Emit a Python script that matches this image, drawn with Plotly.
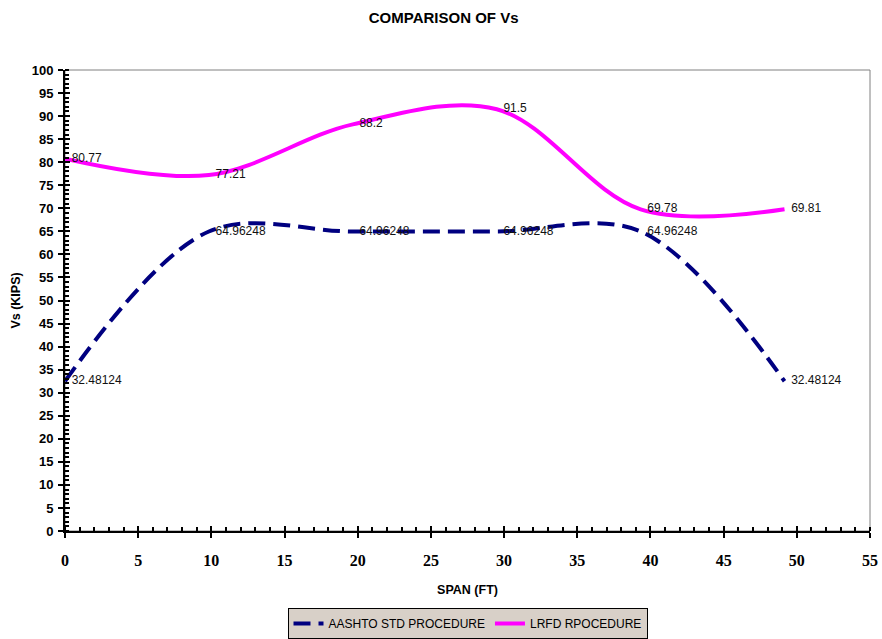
import plotly.graph_objects as go

span_ft = [0, 9.83, 19.66, 29.5, 39.33, 49.16]
aashto_vs = [32.48124, 64.96248, 64.96248, 64.96248, 64.96248, 32.48124]
lrfd_vs = [80.77, 77.21, 88.2, 91.5, 69.78, 69.81]
aashto_labels = ["32.48124", "64.96248", "64.96248", "64.96248", "64.96248", "32.48124"]
lrfd_labels = ["80.77", "77.21", "88.2", "91.5", "69.78", "69.81"]

pad = "\u00a0\u00a0"
fig = go.Figure()
fig.add_trace(go.Scatter(
    x=span_ft, y=aashto_vs, mode="lines+text", name="AASHTO STD PROCEDURE",
    line=dict(color="#000080", width=4, dash="17px,8px", shape="spline", smoothing=1.0),
    text=[pad + t for t in aashto_labels], textposition="middle right",
    textfont=dict(family="Arial", size=12, color="#111111"),
))
fig.add_trace(go.Scatter(
    x=span_ft, y=lrfd_vs, mode="lines+text", name="LRFD RPOCEDURE",
    line=dict(color="#ff00ff", width=4, shape="spline", smoothing=1.0),
    text=[pad + t for t in lrfd_labels], textposition="middle right",
    textfont=dict(family="Arial", size=12, color="#111111"),
))

fig.update_layout(
    width=882, height=639,
    paper_bgcolor="white", plot_bgcolor="white",
    margin=dict(l=65, r=12, t=70, b=108, autoexpand=False),
    title=dict(text="<b>COMPARISON OF Vs</b>", x=0.503, xanchor="center", y=0.973, yanchor="middle",
               font=dict(family="Arial", size=15, color="black")),
    showlegend=True,
    legend=dict(orientation="h", x=0.5, xanchor="center", y=-0.167, yanchor="top",
                bgcolor="#d8d0c8", bordercolor="black", borderwidth=1,
                font=dict(family="Arial", size=12, color="black"),
                itemwidth=30, tracegroupgap=0),
    shapes=[dict(type="rect", xref="paper", yref="paper", x0=0, x1=1, y0=0, y1=1,
                 line=dict(color="#808080", width=1), layer="below")],
    xaxis2=dict(overlaying="x", range=[0, 55], dtick=5, tick0=0, side="bottom",
                showgrid=False, zeroline=False, showline=False, showticklabels=False,
                ticks="inside", ticklen=5, tickwidth=2, tickcolor="black", automargin=False),
    yaxis2=dict(overlaying="y", range=[0, 100], dtick=5, tick0=0, side="left",
                showgrid=False, zeroline=False, showline=False, showticklabels=False,
                ticks="inside", ticklen=5, tickwidth=2, tickcolor="black", automargin=False),
)
# invisible trace to activate overlay axes
fig.add_trace(go.Scatter(x=[0], y=[0], xaxis="x2", yaxis="y2", mode="markers",
                         marker=dict(opacity=0), showlegend=False, hoverinfo="skip"))

fig.layout.xaxis.update(
    range=[0, 55], dtick=5, tick0=0,
    showgrid=False, zeroline=False, automargin=False,
    showline=True, linecolor="black", linewidth=2,
    ticks="outside", ticklen=5, tickwidth=2, tickcolor="black",
    minor=dict(dtick=1, ticks="inside", ticklen=4, tickwidth=1.5, tickcolor="black"),
    tickfont=dict(family="Liberation Serif", size=16, color="black"),
    tickprefix="<b>", ticksuffix="</b>",
    ticklabelstandoff=9,
    title=dict(text="<b>SPAN (FT)</b>", font=dict(family="Arial", size=12.5, color="black"), standoff=17),
)
fig.layout.yaxis.update(
    range=[0, 100], dtick=5, tick0=0,
    showgrid=False, zeroline=False, automargin=False,
    showline=True, linecolor="black", linewidth=2,
    ticks="outside", ticklen=5, tickwidth=2, tickcolor="black",
    minor=dict(dtick=1, ticks="inside", ticklen=4, tickwidth=1.5, tickcolor="black"),
    tickfont=dict(family="Arial", size=13, color="black"),
    tickprefix="<b>", ticksuffix="</b>",
    ticklabelstandoff=2,
    title=dict(text="<b>Vs (KIPS)</b>", font=dict(family="Arial", size=12.5, color="black"), standoff=8),
)

fig.write_html("out.html", config={"displayModeBar": False},
               post_script="document.body.style.margin='0';document.body.style.padding='0';")
